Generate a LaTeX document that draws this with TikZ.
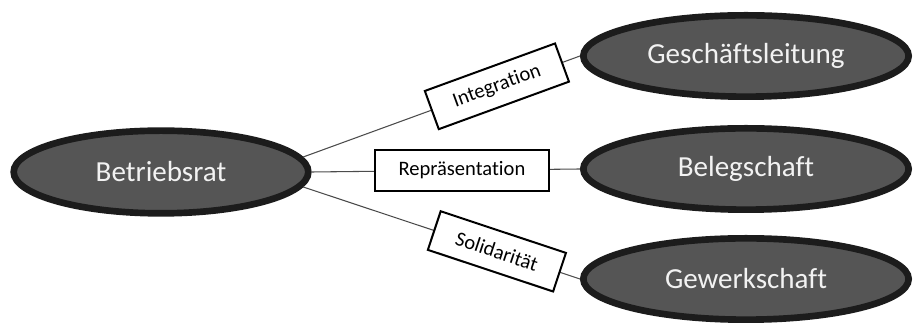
\documentclass[tikz,border=0pt]{standalone}
\usepackage{fontspec}
\setmainfont{Carlito}[Ligatures=NoCommon]
\usetikzlibrary{shapes.geometric}
\definecolor{partyfill}{HTML}{555555}
\definecolor{partyline}{HTML}{1C1C1C}

\begin{document}
\begin{tikzpicture}[
    x=0.75pt, y=-0.75pt,
    party/.style={draw=partyline, fill=partyfill, ellipse, line width=5pt,
        inner sep=0pt, text=white!95!black, font=\fontsize{21.8}{26}\selectfont},
    tag/.style={draw=black, fill=white, line width=1.5pt, minimum height=30.5pt,
        inner xsep=17.5pt, inner ysep=0pt, font=\fontsize{15.4}{18}\selectfont},
    link/.style={draw=black!70, line width=0.8pt}
]
    \useasboundingbox (0,0) rectangle (914,323);

    \node[party, minimum width=221pt, minimum height=62pt] (br) at (161,172) {Betriebsrat};
    \node[party, minimum width=244pt, minimum height=61pt] (gl) at (746,56) {Geschäftsleitung};
    \node[party, minimum width=244pt, minimum height=61pt] (bel) at (746,169) {Belegschaft};
    \node[party, minimum width=244pt, minimum height=61pt] (gew) at (746,279) {Gewerkschaft};

    \draw[link] (br.6) -- node[tag, sloped, pos=0.7] {Integration} (gl.west);
    \draw[link] (br.east) -- node[tag, pos=0.56] {Repräsentation} (bel.west);
    \draw[link] (br.-6) -- node[tag, sloped, pos=0.7] {Solidarität} (gew.west);
\end{tikzpicture}
\end{document}
